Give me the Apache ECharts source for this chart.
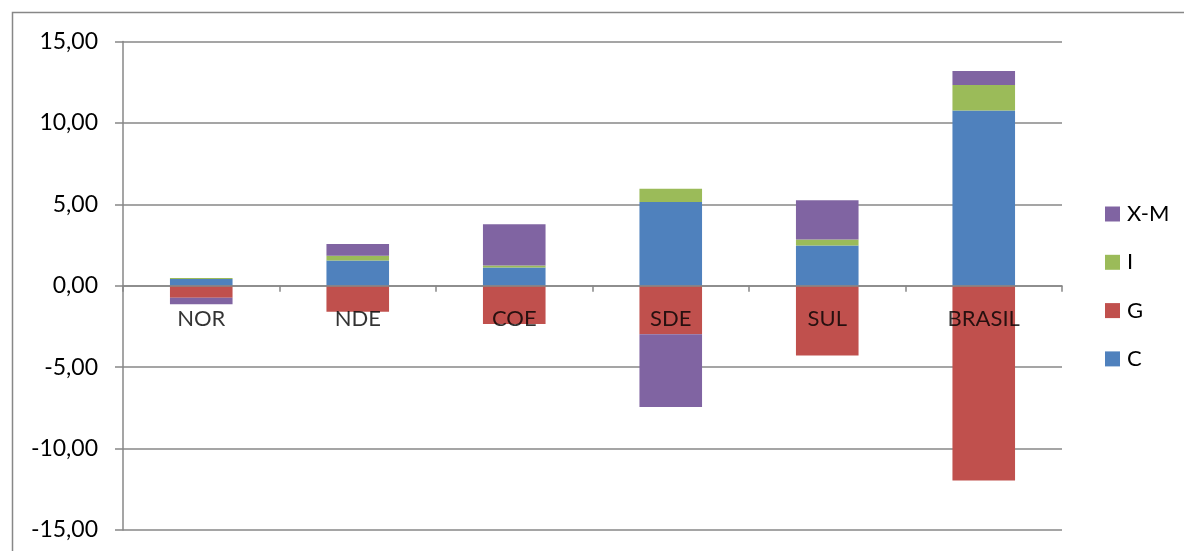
<!DOCTYPE html>
<html>
<head>
<meta charset="utf-8">
<style>
  html, body { margin: 0; padding: 0; background: #fff; }
  #chart { width: 1184px; height: 551px; }
</style>
<script src="https://cdn.jsdelivr.net/npm/echarts@6/dist/echarts.min.js"></script>
</head>
<body>
<div id="chart"></div>
<script>
// Regions and the contribution of each demand component
const categories = ['NOR', 'NDE', 'COE', 'SDE', 'SUL', 'BRASIL'];
const valuesC  = [0.41, 1.55, 1.12, 5.14, 2.47, 10.76];
const valuesG  = [-0.73, -1.59, -2.35, -2.98, -4.29, -11.96];
const valuesI  = [0.06, 0.29, 0.12, 0.82, 0.37, 1.57];
const valuesXM = [-0.40, 0.73, 2.53, -4.47, 2.41, 0.86];
const legendOrder = ['X-M', 'I', 'G', 'C'];

const FONT = 'Lato, "Noto Sans", sans-serif';
const GRAY = '#878787';

const chart = echarts.init(document.getElementById('chart'));

function bar(name, data, color) {
  return {
    name: name,
    type: 'bar',
    stack: 'total',
    barWidth: '40%',
    data: data,
    itemStyle: { color: color },
    emphasis: { disabled: true }
  };
}

// Category names sit just under the zero line, on top of the bars
const zeroLabels = {
  name: 'labels',
  type: 'scatter',
  symbolSize: 0,
  silent: true,
  z: 10,
  data: categories.map(c => [c, 0]),
  label: {
    show: true,
    position: 'bottom',
    distance: 22,
    formatter: p => p.data[0],
    fontFamily: FONT,
    fontSize: 22,
    lineHeight: 22,
    color: '#000'
  }
};

chart.setOption({
  animation: false,
  textStyle: { fontFamily: FONT },
  graphic: [{
    type: 'rect',
    shape: { x: 12.5, y: 12.5, width: 1300, height: 700 },
    style: { fill: 'none', stroke: GRAY, lineWidth: 1.5 },
    silent: true
  }],
  grid: {
    left: 123, right: 122, top: 41.5, bottom: 21,
    containLabel: false,
    outerBoundsMode: 'none'
  },
  legend: {
    orient: 'vertical',
    left: 1100,
    top: 198,
    itemWidth: 15,
    itemHeight: 15,
    itemGap: 26.3,
    icon: 'rect',
    data: legendOrder,
    textStyle: { fontFamily: FONT, fontSize: 22, lineHeight: 22, color: '#000', padding: [0, 0, 0, 2] }
  },
  xAxis: {
    type: 'category',
    data: categories,
    z: 10,
    axisLine: { onZero: true, onZeroAxisIndex: 0, lineStyle: { color: GRAY, width: 1.5 } },
    axisTick: { show: true, length: 6, lineStyle: { color: GRAY, width: 1.5 } },
    axisLabel: { show: false },
    splitLine: { show: false }
  },
  yAxis: {
    type: 'value',
    min: -15,
    max: 15,
    interval: 5,
    axisLine: { show: true, lineStyle: { color: GRAY, width: 1.5 } },
    axisTick: { show: true, length: 8, lineStyle: { color: GRAY, width: 1.5 } },
    axisLabel: {
      fontFamily: FONT, fontSize: 23, color: '#000', margin: 25,
      formatter: v => v.toFixed(2).replace('.', ',')
    },
    splitLine: { show: true, lineStyle: { color: GRAY, width: 1.5 } }
  },
  series: [
    bar('C', valuesC, '#4F81BD'),
    bar('G', valuesG, '#C0504D'),
    bar('I', valuesI, '#9BBB59'),
    bar('X-M', valuesXM, '#8064A2'),
    zeroLabels
  ]
});
</script>
</body>
</html>
